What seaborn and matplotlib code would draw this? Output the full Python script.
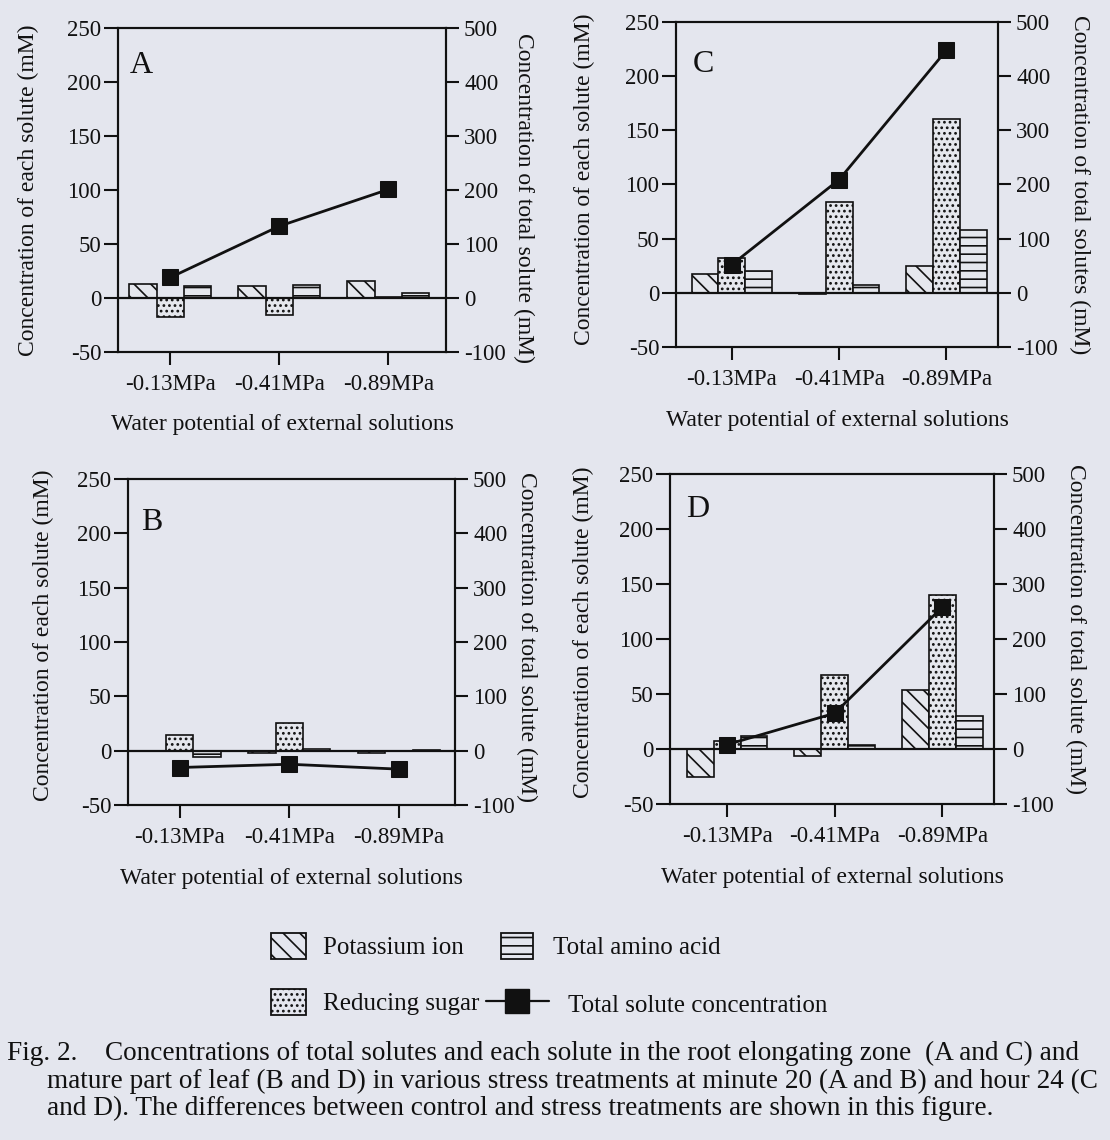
import numpy as np
import pandas as pd
import matplotlib
matplotlib.use("Agg")
import matplotlib.pyplot as plt
import seaborn as sns
from matplotlib.patches import Patch
from matplotlib.lines import Line2D

# ---------------- data ----------------
categories = ["-0.13MPa", "-0.41MPa", "-0.89MPa"]
solutes = ["Potassium ion", "Reducing sugar", "Total amino acid"]
total_label = "Total solute concentration"

A_potassium = [13, 11, 16]
A_sugar = [-18, -16, 1]
A_amino = [11, 12, 5]
A_total = [38, 133, 201]

C_potassium = [17, -1, 25]
C_sugar = [32, 84, 160]
C_amino = [20, 7, 58]
C_total = [52, 209, 448]

B_potassium = [0, -2, -2.5]
B_sugar = [14, 25.5, 0]
B_amino = [-6, 1.5, 0.5]
B_total = [-31, -25, -34]

D_potassium = [-25.5, -6, 54]
D_sugar = [7.5, 67, 140]
D_amino = [11.5, 3.5, 30]
D_total = [8, 65, 258]

left_yticks = [-50, 0, 50, 100, 150, 200, 250]
right_yticks = [-100, 0, 100, 200, 300, 400, 500]
left_ylabel = "Concentration of each solute (mM)"
right_ylabel_A = "Concentration of total solute (mM)"
right_ylabel_C = "Concentration of total solutes (mM)"
right_ylabel_B = "Concentration of total solute (mM)"
right_ylabel_D = "Concentration of total solute (mM)"
x_label = "Water potential of external solutions"
caption_head = "Fig. 2."
caption_line1 = "Concentrations of total solutes and each solute in the root elongating zone  (A and C) and"
caption_line2 = "mature part of leaf (B and D) in various stress treatments at minute 20 (A and B) and hour 24 (C"
caption_line3 = "and D). The differences between control and stress treatments are shown in this figure."

# ---------------- style ----------------
BG = "#e4e6ee"
INK = "#111111"
W, H = 1110, 1140

sns.set_style("ticks")
plt.rcParams["font.family"] = ["Liberation Serif", "DejaVu Serif"]
plt.rcParams["axes.unicode_minus"] = False
plt.rcParams["axes.linewidth"] = 1.5
plt.rcParams["axes.edgecolor"] = INK
plt.rcParams["hatch.linewidth"] = 1.2
plt.rcParams["hatch.color"] = INK
plt.rcParams["text.color"] = INK
plt.rcParams["axes.labelcolor"] = INK
plt.rcParams["xtick.color"] = INK
plt.rcParams["ytick.color"] = INK

hatches = ["\\\\", "...", "--"]

fig = plt.figure(figsize=(W / 100, H / 100), dpi=100)
fig.patch.set_facecolor(BG)

panels = [
    dict(letter="A", k=A_potassium, s=A_sugar, a=A_amino, t=A_total, rlabel=right_ylabel_A,
         px=(118, 28, 446, 352), xlim=(-0.48, 2.53), let=(0.037, 0.861),
         ll=(-0.274, 0.5), rl=(1.235, 0.475), xl=-0.225),
    dict(letter="C", k=C_potassium, s=C_sugar, a=C_amino, t=C_total, rlabel=right_ylabel_C,
         px=(676, 22, 998, 347), xlim=(-0.52, 2.48), let=(0.053, 0.846),
         ll=(-0.283, 0.517), rl=(1.252, 0.5), xl=-0.225),
    dict(letter="B", k=B_potassium, s=B_sugar, a=B_amino, t=B_total, rlabel=right_ylabel_B,
         px=(128, 479, 455, 805), xlim=(-0.47, 2.51), let=(0.04, 0.844),
         ll=(-0.26, 0.52), rl=(1.22, 0.515), xl=-0.224),
    dict(letter="D", k=D_potassium, s=D_sugar, a=D_amino, t=D_total, rlabel=right_ylabel_D,
         px=(670, 474, 994, 804), xlim=(-0.53, 2.48), let=(0.049, 0.870),
         ll=(-0.268, 0.52), rl=(1.253, 0.53), xl=-0.224),
]

for p in panels:
    x0, y0, x1, y1 = p["px"]
    ax = fig.add_axes([x0 / W, 1 - y1 / H, (x1 - x0) / W, (y1 - y0) / H])
    ax.set_facecolor(BG)
    df = pd.DataFrame({
        "category": categories * 3,
        "solute": np.repeat(solutes, len(categories)),
        "value": list(p["k"]) + list(p["s"]) + list(p["a"]),
    })
    sns.barplot(data=df, x="category", y="value", hue="solute", order=categories,
                hue_order=solutes, palette={s: BG for s in solutes}, width=0.75, gap=0,
                edgecolor=INK, linewidth=1.2, errorbar=None, legend=False, ax=ax, zorder=2)
    for cont, h in zip(ax.containers, hatches):
        for bar in cont:
            bar.set_hatch(h)
    ax.axhline(0, color=INK, lw=1.6, zorder=3)
    ax.set_ylim(-50, 250)
    ax.set_yticks(left_yticks)
    ax.set_xlim(*p["xlim"])
    ax.tick_params(axis="y", direction="out", length=10, width=1.5, pad=2, labelsize=16.5)
    ax.tick_params(axis="x", direction="out", length=9.5, width=1.5, pad=6, labelsize=16.5)
    for sp in ax.spines.values():
        sp.set_visible(True)
        sp.set_linewidth(1.5)

    ax2 = ax.twinx()
    sns.lineplot(x=np.arange(len(categories)), y=p["t"], ax=ax2, color=INK, lw=2,
                 marker="s", markersize=11, markeredgecolor=INK, markerfacecolor=INK,
                 sort=False, legend=False, zorder=4)
    ax2.set_ylim(-100, 500)
    ax2.set_yticks(right_yticks)
    ax2.set_xlim(*p["xlim"])
    ax.set_xlim(*p["xlim"])
    ax2.tick_params(axis="y", direction="out", length=9, width=1.5, pad=4, labelsize=16.5)
    for sp in ax2.spines.values():
        sp.set_linewidth(1.5)

    ax.set_xlabel(x_label, fontsize=17, va="center")
    ax.xaxis.set_label_coords(0.5, p["xl"])
    ax.set_ylabel(left_ylabel, fontsize=17, va="center", ha="center", rotation=90,
                  rotation_mode="anchor")
    ax.yaxis.set_label_coords(*p["ll"])
    ax2.set_ylabel(p["rlabel"], fontsize=17, va="center", ha="center", rotation=270,
                   rotation_mode="anchor")
    ax2.yaxis.set_label_coords(*p["rl"])
    ax.text(p["let"][0], p["let"][1], p["letter"], transform=ax.transAxes,
            fontsize=23, va="baseline", ha="left")

# ---------------- legend ----------------
def add_entry(handle, label, x_px, y_px, hl, hh, pad):
    fig.legend([handle], [label], loc="center left",
               bbox_to_anchor=(x_px / W, 1 - y_px / H), frameon=False, fontsize=18,
               handlelength=hl, handleheight=hh, handletextpad=pad,
               borderpad=0, borderaxespad=0)

add_entry(Patch(facecolor=BG, edgecolor=INK, hatch=hatches[0], lw=1.3), solutes[0],
          271, 946, 1.4, 1.28, 0.68)
add_entry(Patch(facecolor=BG, edgecolor=INK, hatch=hatches[1], lw=1.3), solutes[1],
          271, 1002, 1.4, 1.28, 0.68)
add_entry(Patch(facecolor=BG, edgecolor=INK, hatch=hatches[2], lw=1.3), solutes[2],
          501, 946, 1.28, 1.28, 0.8)
add_entry(Line2D([], [], color=INK, lw=1.6, marker="s", markersize=17), total_label,
          486, 1004, 2.5, 1.28, 0.76)

# ---------------- caption ----------------
cap_fs = 19.6
fig.text(7 / W, 1 - 1053 / H, caption_head, fontsize=cap_fs, va="center", ha="left")
fig.text(105 / W, 1 - 1053 / H, caption_line1, fontsize=cap_fs, va="center", ha="left")
fig.text(47 / W, 1 - 1081 / H, caption_line2, fontsize=cap_fs, va="center", ha="left")
fig.text(47 / W, 1 - 1108 / H, caption_line3, fontsize=cap_fs, va="center", ha="left")

fig.savefig("out.png", dpi=100, facecolor=fig.get_facecolor())
